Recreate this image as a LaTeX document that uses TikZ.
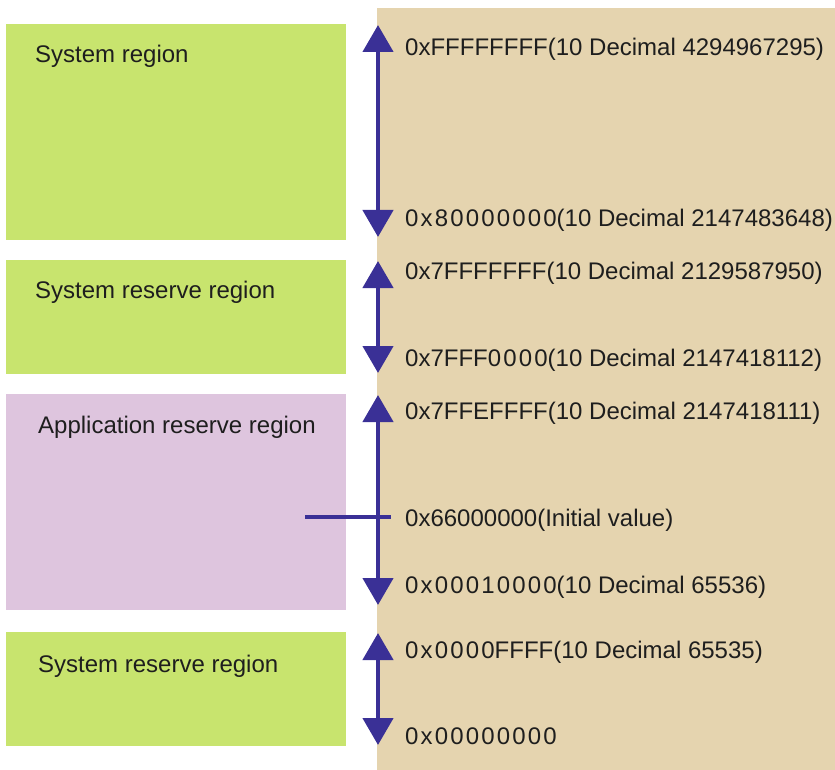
\documentclass[tikz,border=0pt]{standalone}
\usepackage{fontspec}
\setmainfont{Liberation Sans}
\usetikzlibrary{arrows.meta}
\definecolor{regiongreen}{RGB}{200,228,110}
\definecolor{regionpurple}{RGB}{222,197,222}
\definecolor{addrtan}{RGB}{229,212,175}
\definecolor{arrowblue}{RGB}{58,48,150}
\definecolor{textdark}{RGB}{30,30,30}
% widely tracked digits
\newcommand{\tracked}[1]{{\addfontfeature{LetterSpace=9}#1}}
\begin{document}
\begin{tikzpicture}[x=1pt,y=-1pt,
  region/.style={draw=none,anchor=north west,inner sep=0pt,minimum width=340pt},
  regionlabel/.style={anchor=base west,inner sep=0pt,font=\fontsize{24}{28}\selectfont,text=textdark},
  addr/.style={anchor=base west,inner sep=0pt,font=\fontsize{24}{28}\selectfont,text=textdark},
  span/.style={draw=arrowblue,line width=4.5pt,{Triangle[width=30pt,length=27pt]}-{Triangle[width=30pt,length=27pt]}},
  marker/.style={draw=arrowblue,line width=4pt}
]
\useasboundingbox (0,0) rectangle (835,770);
% address column background
\fill[addrtan] (377,8) rectangle (835,770);

% memory regions
\node[region,fill=regiongreen,minimum height=216pt] (sys) at (6,24) {};
\node[region,fill=regiongreen,minimum height=114pt] (sysres1) at (6,260) {};
\node[region,fill=regionpurple,minimum height=216pt] (appres) at (6,394) {};
\node[region,fill=regiongreen,minimum height=114pt] (sysres2) at (6,632) {};

\node[regionlabel] (sysl) at (35,63) {System region};
\node[regionlabel] (sysres1l) at (35,298) {System reserve region};
\node[regionlabel] (appresl) at (38,433) {Application reserve region};
\node[regionlabel] (sysres2l) at (38,672) {System reserve region};

% range arrows
\coordinate (t1) at (378,25);
\coordinate (b1) at (378,237);
\coordinate (t2) at (378,261);
\coordinate (b2) at (378,373);
\coordinate (t3) at (378,395);
\coordinate (b3) at (378,605);
\coordinate (t4) at (378,633);
\coordinate (b4) at (378,745);
\draw[span] (t1) -- (b1);
\draw[span] (t2) -- (b2);
\draw[span] (t3) -- (b3);
\draw[span] (t4) -- (b4);

% initial value marker
\coordinate (ivstart) at (305,517);
\coordinate (ivend) at (391,517);
\draw[marker] (ivstart) -- (ivend);

% address labels
\node[addr] (a1) at (405,56) {0xFFFFFFFF(10 Decimal 4294967295)};
\node[addr] (a2) at (405,226) {\tracked{0x80000000}(10 Decimal 2147483648)};
\node[addr] (a3) at (405,279) {0x7FFFFFFF(10 Decimal 2129587950)};
\node[addr] (a4) at (405,366) {0x7FFF\tracked{0000}(10 Decimal 2147418112)};
\node[addr] (a5) at (405,419) {0x7FFEFFFF(10 Decimal 2147418111)};
\node[addr] (a6) at (405,526) {0x66000000(Initial value)};
\node[addr] (a7) at (405,593) {\tracked{0x00010000}(10 Decimal 65536)};
\node[addr] (a8) at (405,658) {\tracked{0x0000}FFFF(10 Decimal 65535)};
\node[addr] (a9) at (405,744) {\tracked{0x00000000}};
\end{tikzpicture}
\end{document}
